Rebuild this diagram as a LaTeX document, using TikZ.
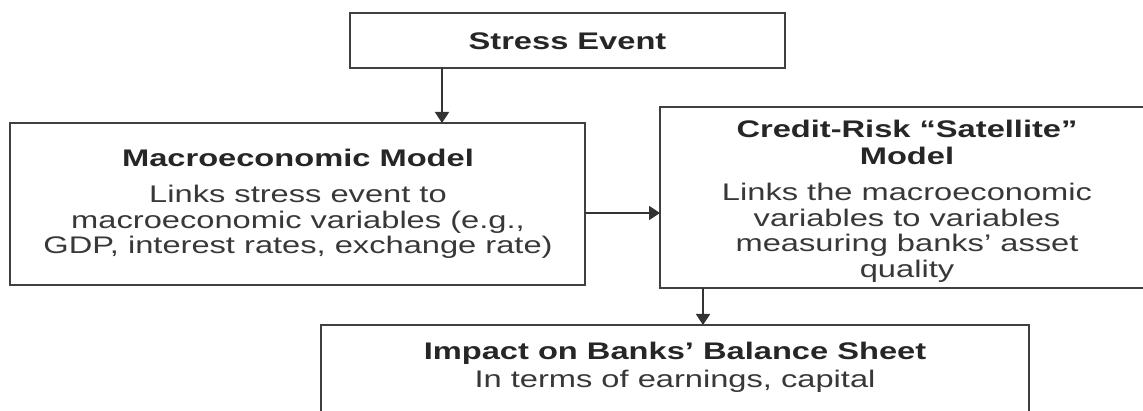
\documentclass[tikz,border=0pt]{standalone}
\usepackage{fontspec}
\setmainfont{Liberation Sans}[FakeStretch=1.36]
\usetikzlibrary{arrows.meta}
\begin{document}
\begin{tikzpicture}[x=1pt,y=-1pt,
  box/.style={draw=black!75,line width=2.2pt,fill=white,inner sep=0pt,outer sep=0pt},
  head/.style={font=\fontsize{24}{27}\selectfont\bfseries,text=black!85,align=center,inner sep=0pt},
  body/.style={font=\fontsize{24}{25.5}\selectfont,text=black!78,align=center,inner sep=0pt},
  arr/.style={draw=black!80,line width=1.8pt,-{Triangle[width=14pt,length=11pt]}}]
\useasboundingbox (0,0) rectangle (1143,411);
\clip (0,0) rectangle (1143,411);
% boxes
\node[box,minimum width=435pt,minimum height=55pt] (stress) at (567.5,40.5) {};
\node[box,minimum width=575pt,minimum height=162pt] (macro) at (297.5,204) {};
\node[box,minimum width=490pt,minimum height=181pt] (credit) at (905,197.5) {};
\node[box,minimum width=708pt,minimum height=120pt] (impact) at (675,385) {};
% texts
\node[head] (stressT) at (567.5,41) {Stress Event};
\node[head] (macroT) at (298,158) {Macroeconomic Model};
\node[body] (macroB) at (298,222) {Links stress event to\\macroeconomic variables (e.g.,\\GDP, interest rates, exchange rate)};
\node[head] (creditT) at (907,142) {Credit-Risk “Satellite”\\Model};
\node[body] (creditB) at (907,233) {Links the macroeconomic\\variables to variables\\measuring banks’ asset\\quality};
\node[head] (impactT) at (675,353) {Impact on Banks’ Balance Sheet};
\node[body] (impactB) at (675,381) {In terms of earnings, capital};
% connectors
\coordinate (xa) at (442,0);
\coordinate (ya) at (0,213);
\coordinate (xb) at (703,0);
\draw[arr] (stress.south -| xa) -- (macro.north -| xa);
\draw[arr] (macro.east |- ya) -- (credit.west |- ya);
\draw[arr] (credit.south -| xb) -- (impact.north -| xb);
\end{tikzpicture}
\end{document}
